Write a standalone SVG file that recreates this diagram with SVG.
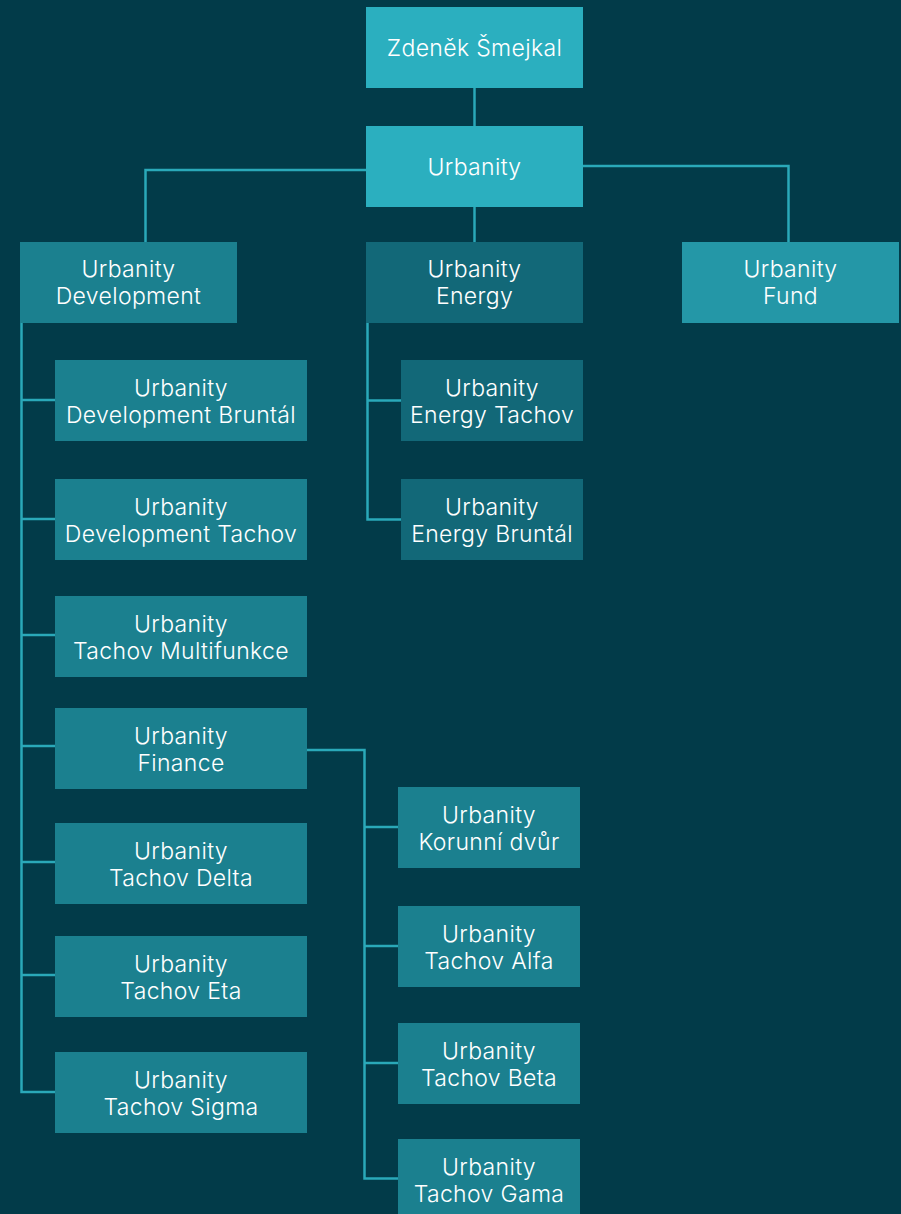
<svg xmlns="http://www.w3.org/2000/svg" width="901" height="1214" viewBox="0 0 901 1214">
<style>
.t{font-family:Inter,"Noto Sans",sans-serif;font-size:23px;font-weight:300;letter-spacing:0.35px;fill:#ffffff;text-anchor:middle}
.top{fill:#2BAFBF}
.dev{fill:#1B808F}
.en{fill:#126878}
.fund{fill:#2497A7}
.c{fill:none;stroke:#2AA9B9;stroke-width:2.5}
</style>
<rect width="901" height="1214" fill="#023B49"/>
<g id="connectors">
<path class="c" d="M474.5 88V126"/>
<path class="c" d="M366 170H145.5V242"/>
<path class="c" d="M583 166H788.5V242"/>
<path class="c" d="M474.5 207V242"/>
<path class="c" d="M367.5 322V519.5H401M367.5 400.5H401"/>
<path class="c" d="M21.5 322V1092H55M21.5 400H55M21.5 519H55M21.5 635H55M21.5 746H55M21.5 862H55M21.5 975H55"/>
<path class="c" d="M307 750H364.5V1178.5H398M364.5 827H398M364.5 946H398M364.5 1063H398"/>
</g>
<g id="n-zdenek"><rect class="top" x="366" y="7" width="217" height="81"/><text class="t" x="474.5" y="56">Zdeněk Šmejkal</text></g>
<g id="n-urbanity"><rect class="top" x="366" y="126" width="217" height="81"/><text class="t" x="474.5" y="175">Urbanity</text></g>
<g id="n-dev"><rect class="dev" x="20" y="242" width="217" height="81"/><text class="t" x="128.5" y="277">Urbanity</text><text class="t" x="128.5" y="304">Development</text></g>
<g id="n-energy"><rect class="en" x="366" y="242" width="217" height="81"/><text class="t" x="474.5" y="277">Urbanity</text><text class="t" x="474.5" y="304">Energy</text></g>
<g id="n-fund"><rect class="fund" x="682" y="242" width="217" height="81"/><text class="t" x="790.5" y="277">Urbanity</text><text class="t" x="790.5" y="304">Fund</text></g>
<g id="n-en-tachov"><rect class="en" x="401" y="360" width="182" height="81"/><text class="t" x="492" y="396">Urbanity</text><text class="t" x="492" y="423">Energy Tachov</text></g>
<g id="n-en-bruntal"><rect class="en" x="401" y="479" width="182" height="81"/><text class="t" x="492" y="515">Urbanity</text><text class="t" x="492" y="542">Energy Bruntál</text></g>
<g id="n-dev-bruntal"><rect class="dev" x="55" y="360" width="252" height="81"/><text class="t" x="181" y="396">Urbanity</text><text class="t" x="181" y="423">Development Bruntál</text></g>
<g id="n-dev-tachov"><rect class="dev" x="55" y="479" width="252" height="81"/><text class="t" x="181" y="515">Urbanity</text><text class="t" x="181" y="542">Development Tachov</text></g>
<g id="n-multi"><rect class="dev" x="55" y="596" width="252" height="81"/><text class="t" x="181" y="632">Urbanity</text><text class="t" x="181" y="659">Tachov Multifunkce</text></g>
<g id="n-finance"><rect class="dev" x="55" y="708" width="252" height="81"/><text class="t" x="181" y="744">Urbanity</text><text class="t" x="181" y="771">Finance</text></g>
<g id="n-delta"><rect class="dev" x="55" y="823" width="252" height="81"/><text class="t" x="181" y="859">Urbanity</text><text class="t" x="181" y="886">Tachov Delta</text></g>
<g id="n-eta"><rect class="dev" x="55" y="936" width="252" height="81"/><text class="t" x="181" y="972">Urbanity</text><text class="t" x="181" y="999">Tachov Eta</text></g>
<g id="n-sigma"><rect class="dev" x="55" y="1052" width="252" height="81"/><text class="t" x="181" y="1088">Urbanity</text><text class="t" x="181" y="1115">Tachov Sigma</text></g>
<g id="n-korunni"><rect class="dev" x="398" y="787" width="182" height="81"/><text class="t" x="489" y="823">Urbanity</text><text class="t" x="489" y="850">Korunní dvůr</text></g>
<g id="n-alfa"><rect class="dev" x="398" y="906" width="182" height="81"/><text class="t" x="489" y="942">Urbanity</text><text class="t" x="489" y="969">Tachov Alfa</text></g>
<g id="n-beta"><rect class="dev" x="398" y="1023" width="182" height="81"/><text class="t" x="489" y="1059">Urbanity</text><text class="t" x="489" y="1086">Tachov Beta</text></g>
<g id="n-gama"><rect class="dev" x="398" y="1139" width="182" height="81"/><text class="t" x="489" y="1175">Urbanity</text><text class="t" x="489" y="1202">Tachov Gama</text></g>
</svg>
